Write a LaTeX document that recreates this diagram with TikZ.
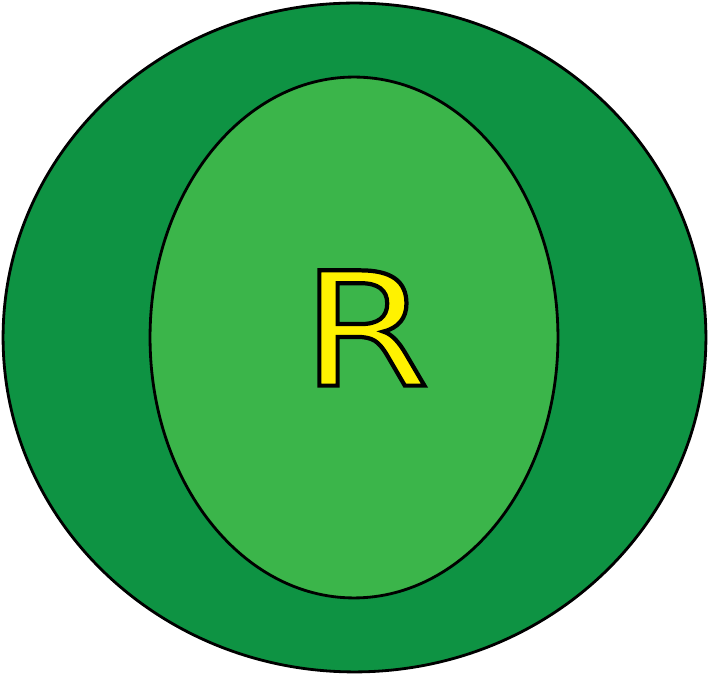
\documentclass[tikz,border=0pt]{standalone}
\usepackage{fontspec}
\usetikzlibrary{shapes.geometric}
\newfontfamily\letterfont[FakeStretch=1.17]{DejaVu Sans}
\definecolor{outergreen}{HTML}{0E9343}
\definecolor{innergreen}{HTML}{3BB54A}
\definecolor{letteryellow}{HTML}{FFF200}

\begin{document}
\begin{tikzpicture}[
  x=0.02cm, y=-0.02cm,
  ring/.style={ellipse, draw=black, line width=1.6pt, inner sep=0pt, outer sep=0pt},
  letter/.style={inner sep=0pt, text=letteryellow,
                 font=\letterfont\fontsize{90}{90}\selectfont},
]

\useasboundingbox (0,0) rectangle (708,675);

% --- Outer and inner rings ---
\node[ring, fill=outergreen, minimum width=14.06cm, minimum height=13.38cm] (outer) at (354.5,337.5) {};
\node[ring, fill=innergreen, minimum width=8.16cm, minimum height=10.42cm] (inner) at (354,337.5) {};

% --- Outlined letter ---
\node[letter] (rlabel) at (365.5,328)
  {\special{pdf:literal direct 2 Tr 2.4 w 0 0 0 RG}R\special{pdf:literal direct 0 Tr}};

\end{tikzpicture}
\end{document}
